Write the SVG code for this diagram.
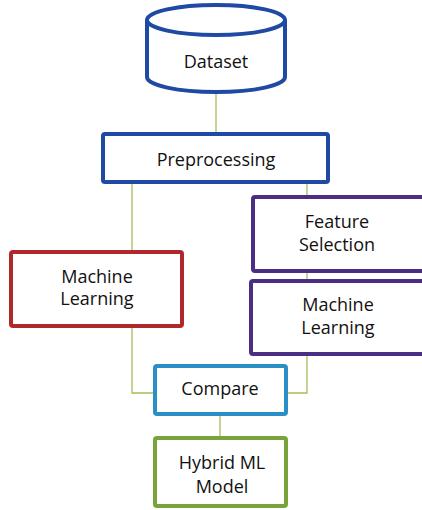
<svg xmlns="http://www.w3.org/2000/svg" width="422" height="510" viewBox="0 0 422 510">
<style>
.t{font-family:"Open Sans","Noto Sans",sans-serif;font-size:18px;fill:#111;text-anchor:middle}
.box{fill:#fff;stroke-width:4}
.c{fill:none;stroke:#a4bf5a;stroke-width:1.3}
</style>
<rect width="422" height="510" fill="#fff"/>
<g id="connectors">
<line class="c" x1="216" y1="92" x2="216" y2="132"/>
<line class="c" x1="132" y1="183" x2="132" y2="251"/>
<line class="c" x1="307" y1="183" x2="307" y2="196"/>
<line class="c" x1="307" y1="272" x2="307" y2="279"/>
<polyline class="c" points="132,327 132,393 154,393"/>
<polyline class="c" points="307,355 307,393 287,393"/>
<line class="c" x1="220" y1="415" x2="220" y2="437"/>
</g>
<g id="dataset">
<path class="box" stroke="#1e4aa3" d="M147,20 L147,77 A69,15 0 0 0 285,77 L285,20"/>
<ellipse class="box" stroke="#1e4aa3" cx="216" cy="20" rx="69" ry="15"/>
<text class="t" x="216" y="68">Dataset</text>
</g>
<g id="preprocessing">
<rect class="box" stroke="#1e4aa3" x="103" y="134" width="225" height="48" rx="2"/>
<text class="t" x="216" y="166">Preprocessing</text>
</g>
<g id="feature-selection">
<rect class="box" stroke="#4b2d83" x="253" y="197" width="172" height="74" rx="2"/>
<text class="t" x="337" y="228">Feature</text>
<text class="t" x="337" y="251">Selection</text>
</g>
<g id="ml-right">
<rect class="box" stroke="#4b2d83" x="251" y="281" width="174" height="73" rx="2"/>
<text class="t" x="338" y="311">Machine</text>
<text class="t" x="338" y="334">Learning</text>
</g>
<g id="ml-left">
<rect class="box" stroke="#b0282c" x="11" y="252" width="171" height="74" rx="2"/>
<text class="t" x="97" y="283">Machine</text>
<text class="t" x="97" y="305">Learning</text>
</g>
<g id="compare">
<rect class="box" stroke="#2a8fc4" x="155" y="366" width="131" height="48" rx="2"/>
<text class="t" x="220" y="395">Compare</text>
</g>
<g id="hybrid">
<rect class="box" stroke="#77a33a" x="155" y="438" width="131" height="68" rx="2"/>
<text class="t" x="222" y="469">Hybrid ML</text>
<text class="t" x="222" y="493">Model</text>
</g>
</svg>
